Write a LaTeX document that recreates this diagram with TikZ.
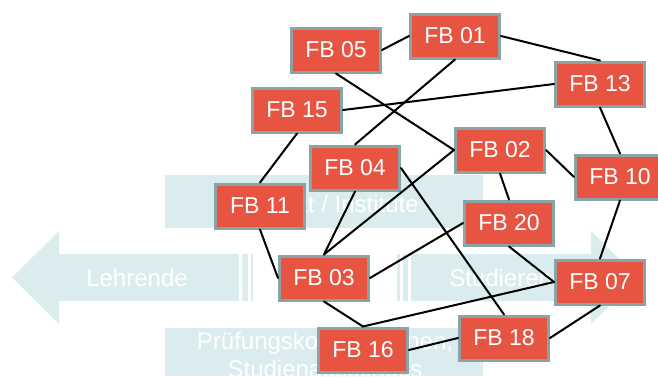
\documentclass[tikz,border=0pt]{standalone}
\usepackage{fontspec}
\setmainfont{Liberation Sans}
\definecolor{fbred}{RGB}{232,84,66}
\definecolor{fbframe}{RGB}{138,163,166}
\definecolor{bgteal}{RGB}{218,236,238}

\begin{document}
\begin{tikzpicture}[x=1pt,y=-1pt,
	fb/.style={rectangle,draw=fbframe,fill=fbred,line width=3pt,minimum width=89pt,minimum height=44pt,inner sep=0pt,text=white,font=\fontsize{23}{23}\selectfont},
	bgtext/.style={text=white,inner sep=0pt,font=\fontsize{24}{28}\selectfont,align=center},
	link/.style={line width=2pt,line cap=round}]
	\useasboundingbox (0,0) rectangle (658,376);

	% background: arrows and boxes
	\fill[bgteal] (12,277.5) -- (59,231) -- (59,254) -- (239,254) -- (239,301) -- (59,301) -- (59,324) -- cycle;
	\fill[bgteal] (242,254) rectangle (248,301);
	\fill[bgteal] (251,254) rectangle (253,301);
	\fill[bgteal] (397,254) rectangle (400,301);
	\fill[bgteal] (403,254) rectangle (408,301);
	\fill[bgteal] (411,254) -- (591,254) -- (591,231) -- (638,277.5) -- (591,324) -- (591,301) -- (411,301) -- cycle;
	\fill[bgteal] (165,175) rectangle (483,228);
	\fill[bgteal] (165,328) rectangle (483,376);

	\node[bgtext,anchor=base] at (137,286) (L)  {Lehrende};
	\node[bgtext,anchor=base] at (514,286) (S)  {Studierende};
	\node[bgtext,anchor=base] at (324,212) (FI) {Fakultät / Institute};
	\node[bgtext,anchor=north] at (325,332) (PS) {Prüfungskommissionen,\\Studienausschuss};

	% departments
	\node[fb] at (455,36)  (N01) {FB 01};
	\node[fb] at (336,50)  (N05) {FB 05};
	\node[fb] at (600,84)  (N13) {FB 13};
	\node[fb] at (297,110) (N15) {FB 15};
	\node[fb] at (500,150) (N02) {FB 02};
	\node[fb] at (355,168) (N04) {FB 04};
	\node[fb] at (620,177) (N10) {FB 10};
	\node[fb] at (260,206) (N11) {FB 11};
	\node[fb] at (509,223) (N20) {FB 20};
	\node[fb] at (324,278) (N03) {FB 03};
	\node[fb] at (600,282) (N07) {FB 07};
	\node[fb] at (504,338) (N18) {FB 18};
	\node[fb] at (363,350) (N16) {FB 16};

	\draw[link] (N05.east)	-- (N01.west);
	\draw[link] (N01.east)	-- (N13.north);
	\draw[link] (N01.south)	-- (N04.north);
	\draw[link] (N05.south)	-- (N02.west);
	\draw[link] (N15.east)	-- (N13.west);
	\draw[link] (N15.south)	-- (N11.north);
	\draw[link] (N13.south)	-- (N10.north);
	\draw[link] (N02.east)	-- (N10.west);
	\draw[link] (N02.west)	-- (N03.north);
	\draw[link] (N02.south)	-- (N20.north);
	\draw[link] (N04.south)	-- (N03.north);
	\draw[link] (N04.east)	-- (N18.north);
	\draw[link] (N11.south)	-- (N03.west);
	\draw[link] (N20.west)	-- (N03.east);
	\draw[link] (N20.south)	-- (N07.west);
	\draw[link] (N10.south)	-- (N07.north);
	\draw[link] (N07.west)	-- (N16.north);
	\draw[link] (N07.south)	-- (N18.east);
	\draw[link] (N03.south)	-- (N16.north);
	\draw[link] (N16.east)	-- (N18.west);
\end{tikzpicture}
\end{document}
